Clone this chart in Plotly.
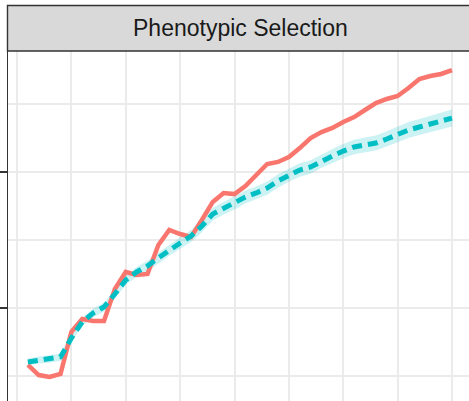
import plotly.graph_objects as go

# Generations
generation = list(range(1, 41))

# Red series (solid)
red_values = [0.581, 0.507, 0.493, 0.515, 0.824, 0.919, 0.904, 0.904, 1.140, 1.265,
              1.243, 1.250, 1.463, 1.574, 1.544, 1.522, 1.647, 1.780, 1.846, 1.838,
              1.897, 1.978, 2.059, 2.074, 2.110, 2.176, 2.250, 2.294, 2.324, 2.368,
              2.404, 2.456, 2.507, 2.537, 2.559, 2.618, 2.684, 2.706, 2.721, 2.750]

# Cyan series (dashed) with ribbon
cyan_values = [0.603, 0.618, 0.625, 0.640, 0.779, 0.897, 0.963, 1.007, 1.103, 1.206,
               1.265, 1.309, 1.368, 1.426, 1.478, 1.529, 1.603, 1.691, 1.735, 1.772,
               1.816, 1.846, 1.882, 1.934, 1.978, 2.015, 2.037, 2.081, 2.118, 2.154,
               2.184, 2.199, 2.213, 2.243, 2.279, 2.309, 2.331, 2.353, 2.375, 2.397]
cyan_se = [0.025, 0.026, 0.027, 0.028, 0.029, 0.030, 0.031, 0.032, 0.034, 0.035,
           0.037, 0.038, 0.040, 0.041, 0.043, 0.044, 0.046, 0.047, 0.047, 0.048,
           0.048, 0.048, 0.049, 0.049, 0.049, 0.050, 0.050, 0.050, 0.051, 0.052,
           0.053, 0.054, 0.055, 0.056, 0.057, 0.058, 0.059, 0.060, 0.061, 0.063]

strip_label = "Phenotypic Selection"

cyan_lower = [v - s for v, s in zip(cyan_values, cyan_se)]
cyan_upper = [v + s for v, s in zip(cyan_values, cyan_se)]

W, H = 469, 401
ML, MT = 8, 51
PW, PH = W - ML, H - MT

fig = go.Figure()
fig.add_trace(go.Scatter(x=generation, y=cyan_lower, mode="lines",
                         line=dict(width=0, color="rgba(0,0,0,0)"),
                         showlegend=False, hoverinfo="skip"))
fig.add_trace(go.Scatter(x=generation, y=cyan_upper, mode="lines", fill="tonexty",
                         fillcolor="rgba(0,191,196,0.2)",
                         line=dict(width=0, color="rgba(0,0,0,0)"),
                         showlegend=False, hoverinfo="skip"))
fig.add_trace(go.Scatter(x=generation, y=red_values, mode="lines",
                         line=dict(color="#F8766D", width=4.5),
                         showlegend=False))
fig.add_trace(go.Scatter(x=generation, y=cyan_values, mode="lines",
                         line=dict(color="#00BFC4", width=5, dash="10px,6px"),
                         showlegend=False))

def px_to_paper_x(px):
    return (px - ML) / PW

def py_to_paper_y(py):
    return (H - py) / PH

# strip
fig.add_shape(type="rect", xref="paper", yref="paper",
              x0=px_to_paper_x(7.5), x1=1.05, y0=1.0, y1=py_to_paper_y(5.5),
              fillcolor="#D9D9D9", line=dict(color="#333333", width=1.4), layer="above")
fig.add_annotation(text=strip_label, xref="paper", yref="paper",
                   x=px_to_paper_x(240), y=py_to_paper_y(28), showarrow=False,
                   xanchor="center", yanchor="middle",
                   font=dict(family="Liberation Sans, Arial", size=23, color="#1A1A1A"))

fig.update_layout(
    width=W, height=H,
    margin=dict(l=ML, r=0, t=MT, b=0, pad=0),
    paper_bgcolor="white", plot_bgcolor="white",
    showlegend=False,
    xaxis=dict(range=[-0.828, 41.563], tickvals=[0, 10, 20, 30, 40],
               showticklabels=False, ticks="", showgrid=True,
               gridcolor="#EBEBEB", gridwidth=1.6, zeroline=False, showline=False,
               minor=dict(tickvals=[5, 15, 25, 35], showgrid=True,
                          gridcolor="#EBEBEB", gridwidth=1.6, ticks="")),
    yaxis=dict(range=[0.316, 2.890], tickvals=[1, 2], showticklabels=False,
               ticks="outside", ticklen=7, tickwidth=1.5, tickcolor="#333333",
               showgrid=True, gridcolor="#EBEBEB", gridwidth=1.6, zeroline=False,
               showline=True, linecolor="#333333", linewidth=1.4,
               minor=dict(tickvals=[0.5, 1.5, 2.5], showgrid=True,
                          gridcolor="#EBEBEB", gridwidth=1.6, ticks="")),
)

fig.write_html("out.html")
